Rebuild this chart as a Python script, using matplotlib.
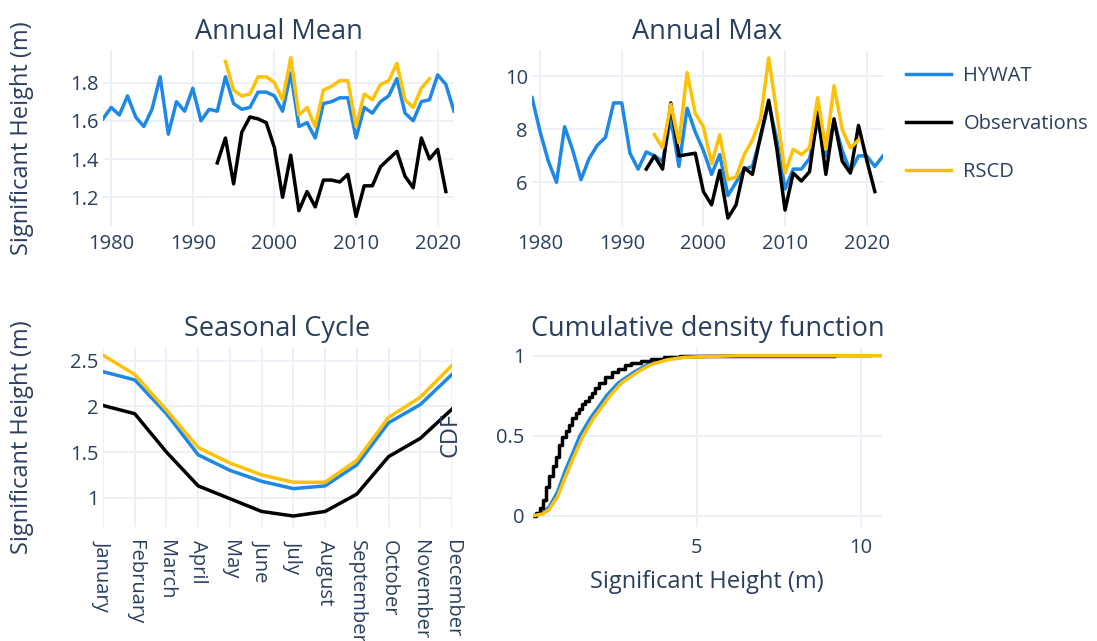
import numpy as np
import matplotlib.pyplot as plt

plt.rcParams['font.family'] = ['Open Sans', 'DejaVu Sans']

# annual mean / max series
years_hywat = list(range(1979, 2023))
years_rscd = list(range(1994, 2020))
years_obs = list(range(1993, 2022))

mean_hywat = [1.61, 1.67, 1.63, 1.73, 1.62, 1.57, 1.66, 1.83, 1.53, 1.70, 1.65,
              1.77, 1.60, 1.66, 1.65, 1.83, 1.69, 1.66, 1.67, 1.75, 1.75, 1.73,
              1.65, 1.85, 1.57, 1.59, 1.51, 1.69, 1.70, 1.72, 1.72, 1.51, 1.67,
              1.64, 1.70, 1.73, 1.82, 1.64, 1.60, 1.70, 1.71, 1.84, 1.79, 1.65]
mean_rscd = [1.91, 1.76, 1.73, 1.74, 1.83, 1.83, 1.80, 1.71, 1.93, 1.63, 1.67,
             1.57, 1.76, 1.78, 1.81, 1.81, 1.57, 1.74, 1.71, 1.79, 1.81, 1.90,
             1.71, 1.67, 1.77, 1.82]
mean_obs = [1.38, 1.51, 1.27, 1.54, 1.62, 1.61, 1.59, 1.46, 1.20, 1.42, 1.13,
            1.23, 1.15, 1.29, 1.29, 1.28, 1.32, 1.10, 1.26, 1.26, 1.36, 1.40,
            1.44, 1.31, 1.25, 1.51, 1.40, 1.45, 1.23]

max_hywat = [9.2, 7.9, 6.8, 6.0, 8.1, 7.2, 6.1, 6.9, 7.4, 7.7, 9.0, 9.0, 7.1,
             6.5, 7.15, 7.0, 6.8, 8.4, 6.6, 8.8, 7.9, 7.2, 6.3, 7.05, 5.5, 6.0,
             6.5, 6.6, 7.7, 9.0, 7.6, 5.75, 6.5, 6.5, 6.9, 8.3, 7.0, 8.3, 7.2,
             6.4, 7.0, 7.0, 6.6, 7.0]
max_rscd = [7.8, 7.3, 8.95, 7.5, 10.15, 8.6, 8.1, 6.7, 7.8, 6.1, 6.2, 7.05,
            7.6, 8.4, 10.7, 8.6, 6.35, 7.25, 7.05, 7.3, 9.2, 7.25, 9.65, 8.0,
            7.3, 7.6]
max_obs = [6.5, 7.0, 6.5, 9.0, 7.0, 7.05, 7.1, 5.65, 5.15, 6.45, 4.65, 5.15,
           6.55, 6.3, 7.75, 9.1, 7.25, 4.95, 6.35, 6.05, 6.4, 8.65, 6.3, 8.4,
           6.8, 6.35, 8.15, 6.85, 5.65]

# seasonal cycle
months = ['January', 'February', 'March', 'April', 'May', 'June', 'July',
          'August', 'September', 'October', 'November', 'December']
seas_hywat = [2.38, 2.29, 1.92, 1.47, 1.30, 1.18, 1.10, 1.13, 1.36, 1.82, 2.02, 2.35]
seas_obs = [2.01, 1.92, 1.50, 1.13, 0.99, 0.85, 0.80, 0.85, 1.04, 1.45, 1.65, 1.97]
seas_rscd = [2.56, 2.35, 1.96, 1.55, 1.38, 1.25, 1.17, 1.17, 1.41, 1.88, 2.10, 2.45]

# cdf
cdf_hywat_x = [0, 0.3, 0.5, 0.75, 1.0, 1.25, 1.43, 1.75, 2.0, 2.24, 2.6, 3.1,
               3.5, 4.0, 4.5, 5.0, 6.0, 10.3]
cdf_hywat_y = [0, 0.02, 0.056, 0.15, 0.29, 0.41, 0.5, 0.61, 0.68, 0.75, 0.83,
               0.9, 0.945, 0.975, 0.99, 0.995, 1.0, 1.0]
cdf_rscd_x = [0, 0.3, 0.5, 0.75, 1.0, 1.25, 1.53, 1.85, 2.1, 2.35, 2.7, 3.2,
              3.6, 4.1, 4.6, 5.2, 6.2, 10.65]
cdf_rscd_y = [0, 0.012, 0.04, 0.12, 0.25, 0.37, 0.5, 0.61, 0.68, 0.75, 0.83,
              0.9, 0.945, 0.975, 0.99, 0.995, 1.0, 1.0]
cdf_obs_x = [0, 0.1, 0.2, 0.3, 0.4, 0.5, 0.6, 0.7, 0.8, 0.9, 1.0, 1.1, 1.2, 1.3,
             1.4, 1.5, 1.6, 1.7, 1.8, 1.9, 2.0, 2.2, 2.4, 2.6, 2.8, 3.0, 3.3,
             3.6, 4.0, 4.5, 5.0, 6.0, 9.2]
cdf_obs_y = [0, 0.02, 0.05, 0.1, 0.18, 0.25, 0.31, 0.37, 0.44, 0.49, 0.53, 0.57,
             0.61, 0.64, 0.67, 0.70, 0.72, 0.74, 0.77, 0.80, 0.83, 0.87, 0.90,
             0.92, 0.94, 0.955, 0.97, 0.98, 0.99, 0.996, 0.999, 1.0, 1.0]

BLUE = '#1E88E5'
YEL = '#FFC107'
BLK = '#000000'
TXT = '#2a3f5f'
GRID = '#EBF0F8'
LW = 2.5

W, H = 1097, 641
fig = plt.figure(figsize=(W / 100, H / 100), dpi=100)


def box(l, t, r, b):
    return [l / W, 1 - b / H, (r - l) / W, (b - t) / H]


def style(ax):
    for s in ax.spines.values():
        s.set_visible(False)
    ax.grid(True, color=GRID, lw=1.3)
    ax.set_axisbelow(True)
    ax.tick_params(length=0, labelsize=14.5, colors=TXT, pad=3)


ax1 = fig.add_axes(box(103, 50, 454, 226))
ax2 = fig.add_axes(box(532, 50, 883, 226))
ax3 = fig.add_axes(box(103, 347, 452, 527))
ax4 = fig.add_axes(box(533, 347, 882, 527))

# annual mean
ax1.plot(years_hywat, mean_hywat, color=BLUE, lw=LW)
ax1.plot(years_obs, mean_obs, color=BLK, lw=LW)
ax1.plot(years_rscd, mean_rscd, color=YEL, lw=LW)
ax1.set_xlim(1979, 2022)
ax1.set_ylim(1.05, 1.97)
ax1.set_xticks([1980, 1990, 2000, 2010, 2020])
ax1.set_yticks([1.2, 1.4, 1.6, 1.8])
ax1.set_yticklabels(['1.2', '1.4', '1.6', '1.8'])

# annual max
l_h, = ax2.plot(years_hywat, max_hywat, color=BLUE, lw=LW)
l_o, = ax2.plot(years_obs, max_obs, color=BLK, lw=LW)
l_r, = ax2.plot(years_rscd, max_rscd, color=YEL, lw=LW)
ax2.set_xlim(1979, 2022)
ax2.set_ylim(4.35, 11.0)
ax2.set_xticks([1980, 1990, 2000, 2010, 2020])
ax2.set_yticks([6, 8, 10])

# seasonal cycle
ax3.plot(months, seas_hywat, color=BLUE, lw=LW)
ax3.plot(months, seas_obs, color=BLK, lw=LW)
ax3.plot(months, seas_rscd, color=YEL, lw=LW)
ax3.set_xlim(0, 11)
ax3.set_ylim(0.68, 2.65)
ax3.set_yticks([1, 1.5, 2, 2.5])
ax3.set_yticklabels(['1', '1.5', '2', '2.5'])
ax3.set_xticks(range(12))
ax3.set_xticklabels(months, rotation=-90, va='top', ha='center')

# cdf
ax4.plot(cdf_hywat_x, cdf_hywat_y, color=BLUE, lw=LW)
ax4.plot(cdf_obs_x, cdf_obs_y, color=BLK, lw=LW, drawstyle='steps-post')
ax4.plot(cdf_rscd_x, cdf_rscd_y, color=YEL, lw=LW)
ax4.set_xlim(0, 10.65)
ax4.set_ylim(-0.07, 1.055)
ax4.set_xticks([5, 10])
ax4.set_yticks([0, 0.5, 1])
ax4.set_yticklabels(['0', '0.5', '1'])

for ax in (ax1, ax2, ax3, ax4):
    style(ax)
ax4.tick_params(axis='y', pad=6)
ax1.tick_params(axis='x', pad=6)
ax2.tick_params(axis='x', pad=6)
ax4.tick_params(axis='x', pad=8)
ax3.tick_params(axis='x', pad=9)

# titles
for ax, t in ((ax1, 'Annual Mean'), (ax2, 'Annual Max'),
              (ax3, 'Seasonal Cycle'), (ax4, 'Cumulative density function')):
    p = ax.get_position()
    fig.text(p.x0 + p.width / 2, p.y1 + 18 / H, t, ha='center', va='center',
             fontsize=19.5, color=TXT)

fig.text(22 / W, 1 - 138 / H, 'Significant Height (m)', rotation=90,
         ha='center', va='center', fontsize=17, color=TXT)
fig.text(22 / W, 1 - 437 / H, 'Significant Height (m)', rotation=90,
         ha='center', va='center', fontsize=17, color=TXT)
fig.text(451 / W, 1 - 435 / H, 'CDF', rotation=90,
         ha='center', va='center', fontsize=17, color=TXT)
fig.text(707 / W, 1 - 582 / H, 'Significant Height (m)',
         ha='center', va='center', fontsize=17, color=TXT)

fig.legend([l_h, l_o, l_r], ['HYWAT', 'Observations', 'RSCD'],
           loc='upper left', bbox_to_anchor=(894 / W, 1 - 54 / H),
           frameon=False, fontsize=14.5, handlelength=2.25,
           handletextpad=0.6, labelspacing=1.4, labelcolor=TXT,
           borderaxespad=0.2)

fig.savefig('out.png', dpi=100)
